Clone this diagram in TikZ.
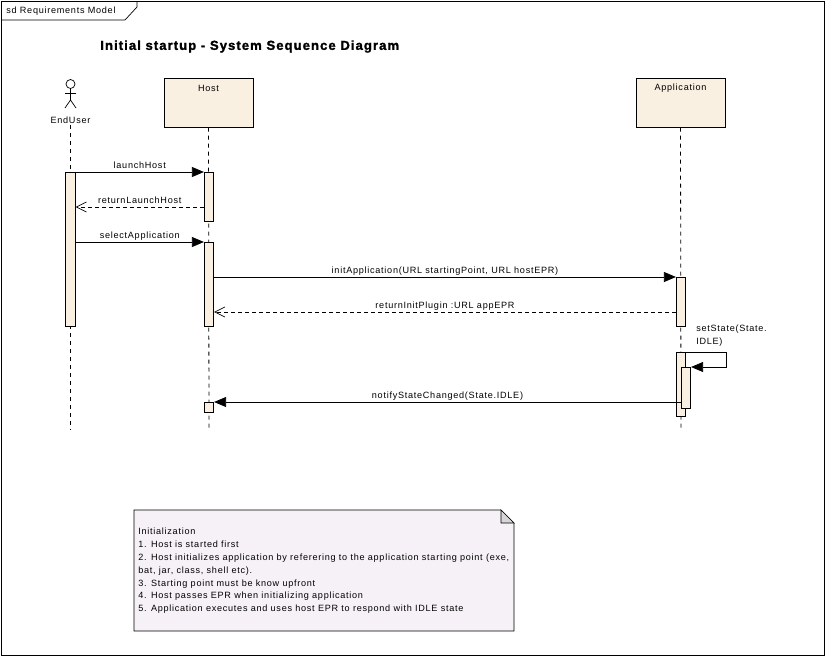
\documentclass[tikz,border=0pt]{standalone}
\usepackage{fontspec}
\setmainfont[LetterSpace=8, BoldFeatures={FakeBold=1.5}]{Liberation Sans}
\usetikzlibrary{arrows.meta, positioning}
\definecolor{lifecolor}{RGB}{249,240,226}
\definecolor{notecolor}{RGB}{246,241,247}
\definecolor{foldcolor}{RGB}{214,214,214}

\begin{document}
\begin{tikzpicture}[
    x=1pt, y=-1pt, line width=0.7pt,
    every node/.style={font=\fontsize{9.1}{12.8}\selectfont},
    lifebox/.style={rectangle, draw, fill=lifecolor, minimum width=89pt, minimum height=49pt, anchor=north},
    activation/.style={rectangle, draw, fill=lifecolor, minimum width=9.5pt, anchor=north, inner sep=0pt},
    lifeline/.style={dashed, dash pattern=on 4pt off 4pt, line width=0.8pt},
    msg/.style={-{Triangle[length=12pt, width=10pt]}, line width=0.8pt},
    reply/.style={-{Straight Barb[length=10pt, width=10pt]}, dashed, dash pattern=on 4pt off 3pt},
    msglabel/.style={midway, above=0pt, text height=7pt, text depth=2pt, inner sep=1pt}
]
\useasboundingbox (0,0) rectangle (825,656);
\fill[white] (0,0) rectangle (825,656);
\draw (1,1) rectangle (824,655);
\draw (1,20) -- (125,20) -- (137,7) -- (137,1);
\node[anchor=west, inner sep=0pt] (frametitle) at (6,11.5) {sd Requirements Model};
\node[anchor=west, inner sep=0pt, font=\fontsize{13.1}{14}\selectfont\bfseries] (title) at (100,46.5) {Initial startup - System Sequence Diagram};

% actor
\node[circle, draw, minimum size=9pt, inner sep=0pt] (head) at (70.5,84) {};
\coordinate (hip) at (70.5,100);
\draw (head.south) -- (hip);
\draw (65,93) -- (76,93);
\draw (65,108) -- (hip) -- (76,108);
\node[inner sep=1pt] (enduser) at (70.5,120) {EndUser};

\node[lifebox] (host) at (208.5,78) {};
\node[lifebox] (app) at (680.5,78) {};
\node at (208.5,88.5) (hostname) {Host};
\node at (680.5,88.5) (appname) {Application};

\coordinate (enduserend) at (70.5,430);
\coordinate (hostend) at (209,430);
\coordinate (append) at (681,430);
\draw[lifeline] (enduser.south) -- (enduserend);
\draw[lifeline] (host.south) -- (hostend);
\draw[lifeline] (app.south) -- (append);

\node[activation, minimum height=154pt] (userbar) at (70.5,172) {};
\node[activation, minimum height=49pt] (hostbara) at (209,172) {};
\node[activation, minimum height=84pt] (hostbarb) at (209,242) {};
\node[activation, minimum height=10pt] (hostbarc) at (209,402) {};
\node[activation, minimum height=49pt] (appbara) at (681,277) {};
\node[activation, minimum height=64pt] (appbarb) at (681,352) {};
\node[activation, minimum height=41pt] (appbarc) at (686,367) {};

\draw[msg] (userbar.north east) -- node[msglabel] (launch) {launchHost} (hostbara.north west);
\draw[reply] ([yshift=-35pt]hostbara.north west) -- node[msglabel] (retlaunch) {returnLaunchHost} ([yshift=-35pt]userbar.north east);
\draw[msg] ([yshift=-70pt]userbar.north east) -- node[msglabel] (select) {selectApplication} (hostbarb.north west);
\draw[msg] ([yshift=-35pt]hostbarb.north east) -- node[msglabel] (init) {initApplication(URL startingPoint, URL hostEPR)} (appbara.north west);
\draw[reply] ([yshift=-35pt]appbara.north west) -- node[msglabel] (retinit) {returnInitPlugin :URL appEPR} ([yshift=-70pt]hostbarb.north east);
\coordinate (selfcorner) at (726,352);
\draw[msg] (appbarb.north east) -- (selfcorner) -- (selfcorner |- appbarc.north) -- (appbarc.north east);
\node[anchor=north west, inner sep=0pt, align=left] (selflabel) at (696,325) {setState(State.\\IDLE)};
\draw[msg] ([yshift=-35pt]appbarc.north west) -- node[msglabel] (notify) {notifyStateChanged(State.IDLE)} (hostbarc.north east);

% note
\draw[fill=notecolor] (134,510) -- (501,510) -- (514,523) -- (514,631) -- (134,631) -- cycle;
\draw[fill=foldcolor] (501,510) -- (501,523) -- (514,523) -- cycle;
\node[anchor=north west, inner sep=0pt, align=left] (note) at (138,528) {Initialization\\
1. Host is started first\\
2. Host initializes application by referering to the application starting point (exe,\\
bat, jar, class, shell etc).\\
3. Starting point must be know upfront\\
4. Host passes EPR when initializing application\\
5. Application executes and uses host EPR to respond with IDLE state};
\end{tikzpicture}
\end{document}
